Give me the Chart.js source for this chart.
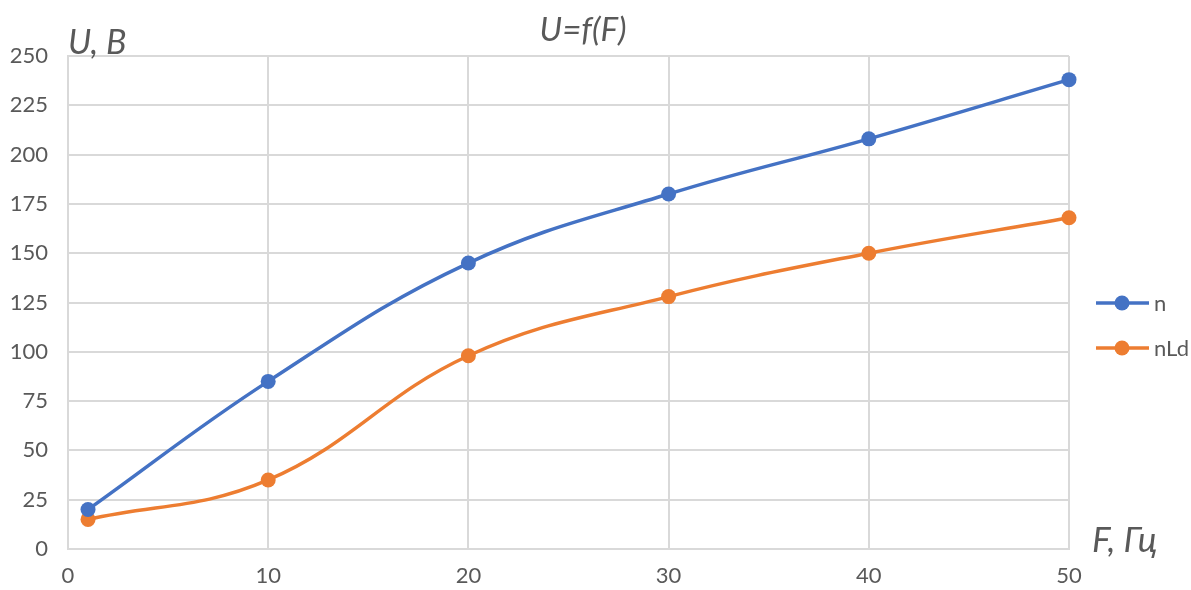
<!DOCTYPE html>
<html>
<head>
<meta charset="utf-8">
<script src="https://cdn.jsdelivr.net/npm/chart.js@4.4.1/dist/chart.umd.min.js"></script>
<style>
  html, body { margin: 0; padding: 0; background: #ffffff; }
  #wrap { width: 1191px; height: 590px; position: relative; }
</style>
</head>
<body>
<div id="wrap"><canvas id="c" width="1191" height="590"></canvas></div>
<script>
// Frequency F, Hz
const freq = [1, 10, 20, 30, 40, 50];
// Voltage U, V for each series
const seriesN = [20, 85, 145, 180, 208, 238];
const seriesNLd = [15, 35, 98, 128, 150, 168];
const seriesNames = ['n', 'nLd'];
const seriesColors = ['#4472C4', '#ED7D31'];
const xTicks = [0, 10, 20, 30, 40, 50];
const yTicks = [0, 25, 50, 75, 100, 125, 150, 175, 200, 225, 250];

const FONT = 'Lato, "Open Sans", sans-serif';
const TEXT = '#595959';
const GRID = '#d9d9d9';

function toPoints(ys) { return freq.map((x, i) => ({ x: x, y: ys[i] })); }

// Title, axis captions and legend drawn on the canvas
const decorations = {
  id: 'decorations',
  afterDraw(chart) {
    const ctx = chart.ctx;
    const area = chart.chartArea;
    ctx.save();
    ctx.fillStyle = TEXT;
    ctx.textBaseline = 'alphabetic';
    ctx.font = 'italic 33px ' + FONT;
    ctx.textAlign = 'center';
    ctx.fillText('U=f(F)', 583, 41);
    ctx.textAlign = 'left';
    ctx.font = 'italic 34px ' + FONT;
    ctx.fillText('U, B', area.left, 54);
    ctx.font = 'italic 35px ' + FONT;
    ctx.fillText('F, Гц', 1092, 552);

    // legend
    const ys = [303, 348];
    seriesNames.forEach((name, i) => {
      const y = ys[i];
      ctx.strokeStyle = seriesColors[i];
      ctx.lineWidth = 3.5;
      ctx.beginPath();
      ctx.moveTo(1096, y);
      ctx.lineTo(1149, y);
      ctx.stroke();
      ctx.fillStyle = seriesColors[i];
      ctx.beginPath();
      ctx.arc(1122, y, 7.5, 0, Math.PI * 2);
      ctx.fill();
      ctx.fillStyle = TEXT;
      ctx.font = '22px ' + FONT;
      ctx.textBaseline = 'middle';
      ctx.fillText(name, 1154, y + 1);
    });
    ctx.restore();
  }
};

new Chart(document.getElementById('c'), {
  type: 'line',
  data: {
    datasets: [
      { label: seriesNames[0], data: toPoints(seriesN) },
      { label: seriesNames[1], data: toPoints(seriesNLd) }
    ].map((d, i) => Object.assign(d, {
      borderColor: seriesColors[i],
      backgroundColor: seriesColors[i],
      borderWidth: 3.5,
      pointRadius: 7.5,
      pointHoverRadius: 7.5,
      pointBorderWidth: 0,
      tension: 0.4,
      clip: false
    }))
  },
  options: {
    responsive: false,
    animation: false,
    events: [],
    layout: { padding: { left: 0, top: 56, right: 122, bottom: 0 } },
    plugins: { legend: { display: false }, title: { display: false }, tooltip: { enabled: false } },
    scales: {
      x: {
        type: 'linear', min: 0, max: 50,
        afterBuildTicks(s) { s.ticks = xTicks.map(v => ({ value: v })); },
        afterFit(s) { s.height = 41; },
        grid: { color: GRID, lineWidth: 2, drawTicks: false },
        border: { color: GRID, width: 2 },
        ticks: { color: TEXT, font: { family: FONT, size: 22 }, padding: 14, maxRotation: 0 }
      },
      y: {
        type: 'linear', min: 0, max: 250,
        afterBuildTicks(s) { s.ticks = yTicks.map(v => ({ value: v })); },
        afterFit(s) { s.width = 68; },
        grid: { color: GRID, lineWidth: 2, drawTicks: false },
        border: { color: GRID, width: 2 },
        ticks: { color: TEXT, font: { family: FONT, size: 22 }, padding: 20 }
      }
    }
  },
  plugins: [decorations]
});
</script>
</body>
</html>
